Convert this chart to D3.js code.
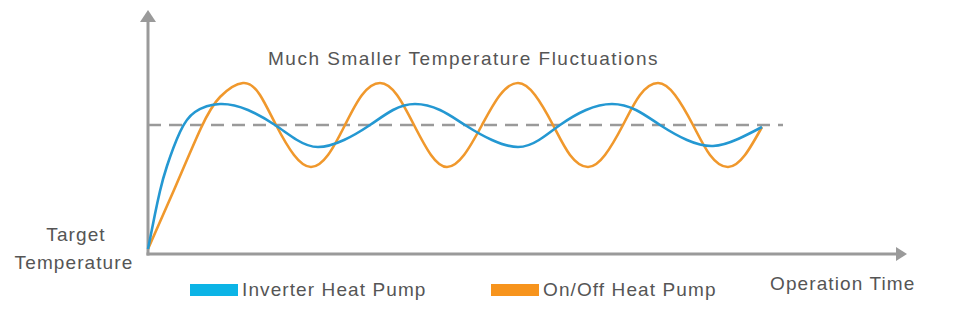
<!DOCTYPE html>
<html><head><meta charset="utf-8">
<script src="https://cdn.jsdelivr.net/npm/d3@7"></script>
<style>html,body{margin:0;padding:0;background:#fff;}svg{display:block;}</style>
</head><body>
<svg id="chart" width="976" height="323"></svg>
<script>
// Time units (abstract) and temperature units (abstract)
const targetLevel = 129;
const inverterTime = [0, 3, 7, 12, 19, 32, 47, 72, 100, 127, 149, 170, 196, 222, 245, 267, 292, 317, 344, 370, 391, 412, 438, 464, 488, 512, 539, 565, 590, 614];
const inverterTemp = [5, 20, 40, 63, 88, 122, 142, 150, 144, 129, 114, 107, 114, 129, 144, 150, 144, 129, 114, 107, 114, 129, 144, 150, 144, 129, 114, 108, 115, 127];
const onoffTime = [0, 26, 53, 72, 95, 112, 128, 146, 163, 180, 197, 214, 232, 249, 266, 283, 299, 316, 334, 352, 370, 387, 405, 422, 440, 457, 475, 492, 510, 527, 545, 562, 580, 597, 614];
const onoffTemp = [5, 64, 126, 157, 171, 159, 129, 99, 87, 99, 129, 159, 171, 159, 129, 99, 87, 99, 129, 159, 171, 159, 129, 99, 87, 99, 129, 159, 171, 159, 129, 99, 87, 99, 127];
const seriesNames = ["Inverter Heat Pump", "On/Off Heat Pump"];
const titleText = "Much Smaller Temperature Fluctuations";
const yLabel = ["Target", "Temperature"];
const xLabel = "Operation Time";

const svg = d3.select("#chart");
const x = d3.scaleLinear().domain([0, 760]).range([148, 908]);
const y = d3.scaleLinear().domain([0, 244]).range([254, 10]);

const axisColor = "#9a9a9a";
const textColor = "#555";
const font = "'Liberation Sans', Arial, sans-serif";

// dashed target line
svg.append("line")
  .attr("x1", x(0)).attr("x2", x(635))
  .attr("y1", y(targetLevel)).attr("y2", y(targetLevel))
  .attr("stroke", axisColor).attr("stroke-width", 2.5)
  .attr("stroke-dasharray", "13,8");

// axes
svg.append("line").attr("x1", x(0)).attr("x2", x(0)).attr("y1", y(0)+1.5).attr("y2", y(236))
  .attr("stroke", axisColor).attr("stroke-width", 3);
svg.append("path").attr("d", `M${x(0)-8},${y(232)} L${x(0)},${y(244)} L${x(0)+8},${y(232)} Z`).attr("fill", axisColor);
svg.append("line").attr("x1", x(0)-1.5).attr("x2", x(750)).attr("y1", y(0)).attr("y2", y(0))
  .attr("stroke", axisColor).attr("stroke-width", 3);
svg.append("path").attr("d", `M${x(748)},${y(0)-7} L${x(759)},${y(0)} L${x(748)},${y(0)+7} Z`).attr("fill", axisColor);

const line = d3.line().x(d => x(d[0])).y(d => y(d[1])).curve(d3.curveNatural);

svg.append("path")
  .datum(onoffTime.map((t, i) => [t, onoffTemp[i]]))
  .attr("d", line).attr("fill", "none").attr("stroke", "#f0982c").attr("stroke-width", 2.6);
svg.append("path")
  .datum(inverterTime.map((t, i) => [t, inverterTemp[i]]))
  .attr("d", line).attr("fill", "none").attr("stroke", "#2498d2").attr("stroke-width", 2.6);

function txt(s, xx, yy, anchor, ls) {
  return svg.append("text").attr("x", xx).attr("y", yy).text(s)
    .attr("text-anchor", anchor || "start")
    .attr("font-family", font).attr("font-size", 19).attr("fill", textColor)
    .attr("letter-spacing", (ls || 1.1) + "px");
}

txt(titleText, 268, 65, "start", 1.5);
txt(yLabel[0], 76, 241, "middle");
txt(yLabel[1], 74, 269, "middle");
txt(xLabel, 770, 290);

// legend
const legendColors = ["#0cb4e6", "#f7941d"];
const legendX = [190, 491];
seriesNames.forEach((n, i) => {
  svg.append("rect").attr("x", legendX[i]).attr("y", 284).attr("width", 48).attr("height", 12).attr("fill", legendColors[i]);
  txt(n, legendX[i] + 52, 296);
});
</script>
</body></html>
